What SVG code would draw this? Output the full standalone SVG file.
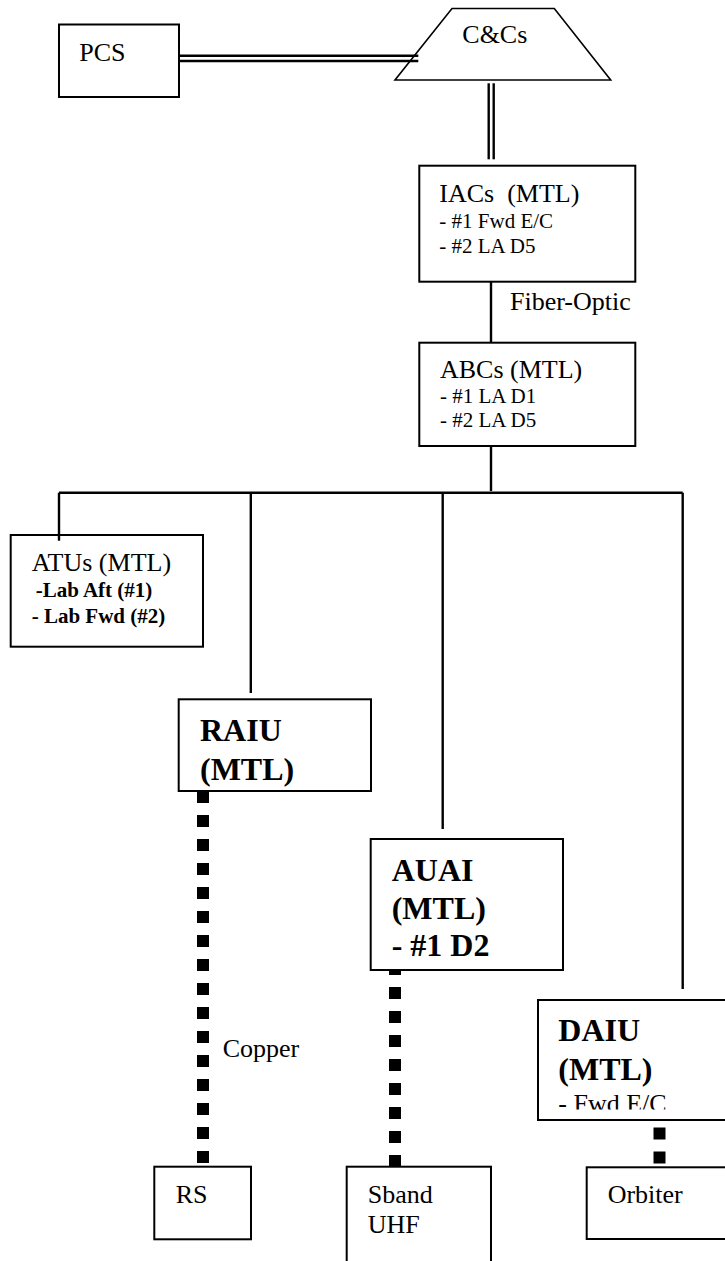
<svg xmlns="http://www.w3.org/2000/svg" width="725" height="1261" viewBox="0 0 725 1261">
<style>
.box{fill:#fff;stroke:#000;stroke-width:2}
.trap{fill:none;stroke:#000;stroke-width:1.6}
.ln{fill:none;stroke:#000;stroke-width:2.4}
.dot{fill:none;stroke:#000;stroke-width:12;stroke-dasharray:12 12}
text{font-family:"Liberation Serif","Times New Roman",serif;fill:#000}
.t26{font-size:26px}
.t21{font-size:21px}
.b21{font-size:21px;font-weight:bold}
.b32{font-size:32px;font-weight:bold}
</style>
<defs>
<clipPath id="daiuclip"><rect x="538" y="1000" width="200" height="109.5"/></clipPath>
</defs>
<rect width="725" height="1261" fill="#fff"/>
<g id="pcs"><rect class="box" x="59" y="24.5" width="120" height="72.5"/><text class="t26" x="79.3" y="61">PCS</text></g>
<g id="ccs"><polygon class="trap" points="452,8.5 554.3,8.5 610.7,80 395,80"/><text class="t26" x="462.3" y="43.3">C&amp;Cs</text></g>
<g id="iacs"><rect class="box" x="419.3" y="165.7" width="216" height="116"/><text class="t26" x="439.3" y="201.7" xml:space="preserve">IACs  (MTL)</text><text class="t21" x="439.3" y="228.3">- #1 Fwd E/C</text><text class="t21" x="439.3" y="252.7">- #2 LA D5</text></g>
<g id="abcs"><rect class="box" x="419.3" y="342.7" width="216" height="103.3"/><text class="t26" x="440" y="378.3">ABCs (MTL)</text><text class="t21" x="440" y="402.7">- #1 LA D1</text><text class="t21" x="440" y="427.3">- #2 LA D5</text></g>
<g id="atus"><rect class="box" x="10.7" y="535" width="192.3" height="111.7"/><text class="t26" x="31.7" y="571">ATUs (MTL)</text><text class="b21" x="35.7" y="597.3">-Lab Aft (#1)</text><text class="b21" x="31.7" y="623.3">- Lab Fwd (#2)</text></g>
<g id="raiu"><rect class="box" x="178.7" y="699.3" width="192.3" height="91.7"/><text class="b32" x="200" y="741">RAIU</text><text class="b32" x="200" y="780">(MTL)</text></g>
<g id="auai"><rect class="box" x="370.7" y="839" width="192.3" height="131"/><text class="b32" x="391.7" y="881">AUAI</text><text class="b32" x="391.7" y="919">(MTL)</text><text class="b32" x="391.7" y="956">- #1 D2</text></g>
<g id="daiu"><rect class="box" x="538" y="1000" width="200" height="120"/><text class="b32" x="558.3" y="1041">DAIU</text><text class="b32" x="558.3" y="1080">(MTL)</text><text class="t26" x="558.3" y="1112" clip-path="url(#daiuclip)">- Fwd E/C</text></g>
<g id="rs"><rect class="box" x="154.3" y="1166.7" width="96.7" height="72.6"/><text class="t26" x="175.7" y="1202.7">RS</text></g>
<g id="sband"><rect class="box" x="346.7" y="1166.7" width="144.3" height="110"/><text class="t26" x="367.7" y="1202.7">Sband</text><text class="t26" x="367.7" y="1233.3">UHF</text></g>
<g id="orbiter"><rect class="box" x="586.7" y="1167.3" width="150" height="71.7"/><text class="t26" x="607.7" y="1202.7">Orbiter</text></g>
<g id="connectors">
<line class="ln" x1="179" y1="55.8" x2="418.3" y2="55.8"/>
<line class="ln" x1="179" y1="61" x2="418.3" y2="61"/>
<line class="ln" x1="488.7" y1="83.3" x2="488.7" y2="159.3"/>
<line class="ln" x1="493.7" y1="83.3" x2="493.7" y2="159.3"/>
<line class="ln" x1="491" y1="281.7" x2="491" y2="342.7"/>
<line class="ln" x1="491" y1="446" x2="491" y2="491"/>
<line class="ln" x1="59" y1="492.7" x2="682.7" y2="492.7"/>
<line class="ln" x1="59" y1="492.7" x2="59" y2="540.7"/>
<line class="ln" x1="250.8" y1="492.7" x2="250.8" y2="693"/>
<line class="ln" x1="442.7" y1="492.7" x2="442.7" y2="829"/>
<line class="ln" x1="682.7" y1="492.7" x2="682.7" y2="989"/>
<line class="dot" x1="203" y1="791" x2="203" y2="1163"/>
<line class="dot" x1="395" y1="971" x2="395" y2="1167" stroke-dashoffset="8"/>
<line class="dot" x1="659.5" y1="1127.5" x2="659.5" y2="1163.5"/>
<text class="t26" x="510" y="310">Fiber-Optic</text>
<text class="t26" x="222.7" y="1056.7">Copper</text>
</g>
</svg>
